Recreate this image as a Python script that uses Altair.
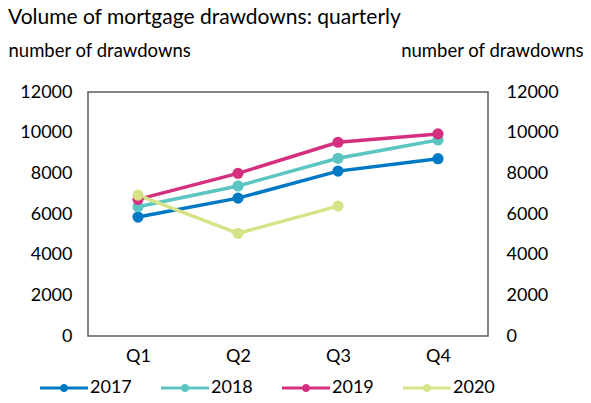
import altair as alt
import pandas as pd

quarters = ["Q1", "Q2", "Q3", "Q4"]
years = ["2017", "2018", "2019", "2020"]
v2017 = [5850, 6780, 8110, 8720]
v2018 = [6360, 7380, 8740, 9640]
v2019 = [6720, 8000, 9530, 9940]
v2020 = [6930, 5050, 6390]
colors = ["#0079C5", "#5BC5C1", "#D5307F", "#D6E387"]

rows = []
for yr, vals in zip(years, [v2017, v2018, v2019, v2020]):
    for q, v in zip(quarters, vals):
        rows.append({"year": yr, "quarter": q, "value": v})
df = pd.DataFrame(rows)

FONT = "Lato"
# legend glyph: a line with a dot, in unit symbol coordinates
legend_symbol = ("M-1,-0.06L1,-0.06L1,0.06L-1,0.06Z"
                 "M0.17,0C0.17,0.094,0.094,0.17,0,0.17"
                 "C-0.094,0.17,-0.17,0.094,-0.17,0"
                 "C-0.17,-0.094,-0.094,-0.17,0,-0.17"
                 "C0.094,-0.17,0.17,-0.094,0.17,0Z")
tick_vals = [0, 2000, 4000, 6000, 8000, 10000, 12000]

x_enc = alt.X("quarter:O", sort=quarters, scale=alt.Scale(type="point", padding=0.5),
              axis=alt.Axis(title=None, labelAngle=0, domain=False, ticks=False,
                            labelPadding=11, labelFontSize=18, labelColor="#000000"))
y_scale = alt.Scale(domain=[0, 12000])

base = alt.Chart(df)

# line colours: same mapping, domain listed in reverse so this scale stays separate
lines = base.mark_line(strokeWidth=3.5).encode(
    x=x_enc,
    y=alt.Y("value:Q", scale=y_scale,
            axis=alt.Axis(orient="left", title="number of drawdowns", values=tick_vals,
                          format="d", grid=False, domain=False, ticks=False, labelPadding=16,
                          labelFontSize=18, labelColor="#000000",
                          titleAngle=0, titleAlign="left", titleBaseline="alphabetic",
                          titleX=-80, titleY=-36, titleFontSize=18.5, titleFontWeight="normal",
                          titleColor="#000000")),
    stroke=alt.Stroke("year:N", scale=alt.Scale(domain=years[::-1], range=colors[::-1]),
                      legend=None),
    order=alt.Order("year:N"),
)

points = base.mark_point(filled=True, size=125, opacity=1).encode(
    x=x_enc,
    y=alt.Y("value:Q", scale=y_scale,
            axis=alt.Axis(orient="right", title="number of drawdowns", values=tick_vals,
                          format="d", grid=False, domain=False, ticks=False, labelPadding=18,
                          labelFontSize=18, labelColor="#000000",
                          titleAngle=0, titleAlign="right", titleBaseline="alphabetic",
                          titleX=95, titleY=-36, titleFontSize=18.5, titleFontWeight="normal",
                          titleColor="#000000")),
    fill=alt.Fill("year:N", scale=alt.Scale(domain=years, range=colors),
                  legend=alt.Legend(title=None, orient="none", legendX=-48, legendY=272,
                                    direction="horizontal", symbolType=legend_symbol,
                                    symbolSize=2304, symbolStrokeWidth=0, symbolOpacity=1,
                                    labelFontSize=18, labelColor="#000000", labelOffset=2,
                                    columnPadding=29, padding=0)),
)

chart = alt.layer(lines, points).properties(
    width=400, height=244,
    autosize=alt.AutoSizeParams(type="none"),
    padding={"left": 80, "top": 84, "right": 95, "bottom": 58},
    title=alt.TitleParams("Volume of mortgage drawdowns: quarterly", anchor="start",
                          frame="group", dx=-80, dy=-9, fontSize=21, fontWeight="normal",
                          color="#000000", font=FONT),
).configure(font=FONT).configure_view(stroke="#595959", strokeWidth=1.5)

chart.save("out.html", embed_options={"renderer": "svg", "actions": False})
